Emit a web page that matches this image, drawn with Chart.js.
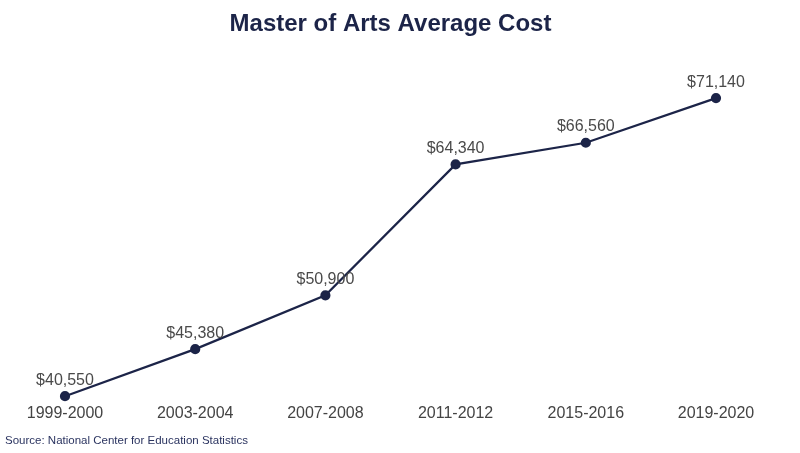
<!DOCTYPE html>
<html>
<head>
<meta charset="utf-8">
<title>Master of Arts Average Cost</title>
<script src="https://cdn.jsdelivr.net/npm/chart.js@4"></script>
<style>
  html, body { margin: 0; padding: 0; background: #fff; }
  #wrap { width: 800px; height: 453px; position: relative; }
</style>
</head>
<body>
<div id="wrap"><canvas id="costLine"></canvas></div>
<script>
const $ = id => document.getElementById(id);

// Data
const years = ["1999-2000", "2003-2004", "2007-2008", "2011-2012", "2015-2016", "2019-2020"];
const avgCost = [40550, 45380, 50900, 64340, 66560, 71140];
const yMin = 40591;
const yMax = 76201;

const navy = "#1c2448";
const fmt = v => "$" + v.toLocaleString("en-US");

// Draws the value above each point, plus the source note
const valueLabels = {
  id: "valueLabels",
  afterDatasetsDraw(chart) {
    const ctx = chart.ctx;
    const meta = chart.getDatasetMeta(0);
    ctx.save();
    ctx.font = "16px 'Liberation Sans', Arial, sans-serif";
    ctx.fillStyle = "#4a4a4a";
    ctx.textAlign = "center";
    ctx.textBaseline = "middle";
    meta.data.forEach((pt, i) => {
      ctx.fillText(fmt(avgCost[i]), pt.x, pt.y - 16);
    });
    // source line, bottom-left corner
    ctx.font = "11.5px 'Liberation Sans', Arial, sans-serif";
    ctx.fillStyle = "#2b3460";
    ctx.textAlign = "left";
    ctx.fillText("Source: National Center for Education Statistics", 5, chart.height - 12);
    ctx.restore();
  }
};

Chart.defaults.font.family = "'Liberation Sans', Arial, sans-serif";

new Chart($("costLine"), {
  type: "line",
  data: {
    labels: years,
    datasets: [{
      data: avgCost,
      borderColor: navy,
      backgroundColor: navy,
      borderWidth: 2.2,
      pointRadius: 4,
      pointHoverRadius: 4,
      tension: 0,
      clip: false
    }]
  },
  options: {
    responsive: true,
    maintainAspectRatio: false,
    animation: false,
    layout: { padding: { left: 65, right: 84, top: 0, bottom: 30 } },
    plugins: {
      legend: { display: false },
      tooltip: { enabled: false },
      title: {
        display: true,
        text: "Master of Arts Average Cost",
        color: navy,
        font: { size: 24, weight: "bold" },
        padding: { top: 10, bottom: 10 }
      }
    },
    scales: {
      x: {
        offset: false,
        grid: { display: false },
        border: { display: false },
        ticks: { color: "#444", font: { size: 16 }, padding: 0, maxRotation: 0 }
      },
      y: {
        display: false,
        min: yMin,
        max: yMax
      }
    }
  },
  plugins: [valueLabels]
});
</script>
</body>
</html>
